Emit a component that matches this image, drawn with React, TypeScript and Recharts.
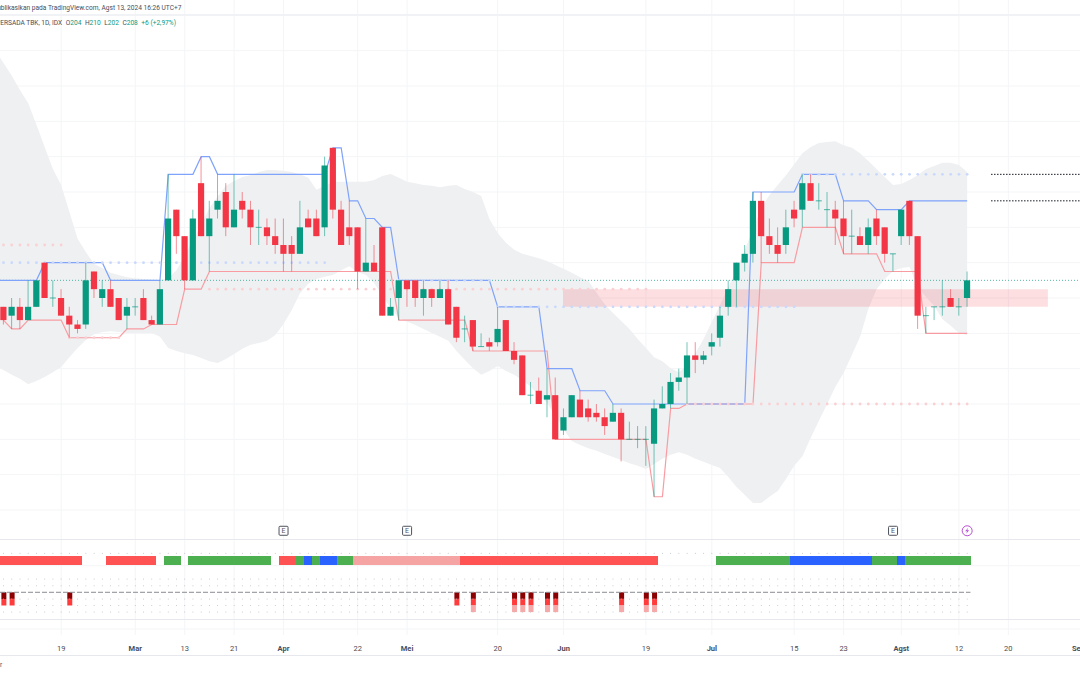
import React from "react";
import {
  Area,
  Bar,
  CartesianGrid,
  ComposedChart,
  Line,
  ReferenceArea,
  ReferenceDot,
  ReferenceLine,
  XAxis,
  YAxis,
} from "recharts";

const candleOpen = [202,200,202,199,202,212,204,204,200,198,198,210,204,206,204,200,202,204,199,198,208,224,218,208,230,218,224,228,220,226,224,220,220,218,216,216,214,222,222,220,238,224,220,220,210,212,220,200,204,208,208,204,206,204,206,202,197,199,193,194,194,199,192,191,182,183,181,182,174,177,181,179,178,177,176,178,172,172,172,171,179,180,185,186,191,190,193,195,202,208,212,214,226,218,216,216,224,224,230,226,224,224,222,218,218,216,222,220,214,218,226,218,200,202,202,204,202,204];
const candleHigh = [202,204,204,208,208,212,208,206,202,199,212,210,208,208,204,204,204,206,200,208,232,224,218,224,236,226,232,230,232,228,226,224,222,222,222,218,226,224,224,236,238,226,226,220,222,216,220,204,208,208,208,208,206,208,208,202,200,199,196,195,202,199,194,191,185,186,188,186,179,182,183,181,180,179,180,179,176,175,175,181,184,187,188,194,194,192,196,202,208,212,216,228,228,222,220,224,226,232,232,230,228,226,226,224,220,222,224,220,214,224,226,218,202,202,208,206,204,210];
const candleLow = [198,197,197,199,202,204,202,200,195,196,197,204,202,202,199,197,200,199,198,198,208,214,206,208,218,210,222,218,220,222,216,216,216,214,210,210,214,220,218,218,222,216,216,206,210,210,200,200,199,202,202,200,202,204,198,194,194,192,193,192,193,192,189,182,180,180,177,172,173,177,177,176,176,173,176,167,172,170,166,159,179,179,183,180,187,189,191,193,200,202,210,212,212,214,212,214,220,220,226,224,220,216,214,214,216,214,216,212,210,216,216,197,196,199,200,202,200,202];
const candleClose = [199,202,199,202,208,204,204,200,198,197,208,206,206,202,199,202,202,199,198,206,222,218,208,222,218,222,226,220,224,224,220,220,218,216,214,214,220,220,218,234,224,216,218,210,212,210,200,202,208,206,204,206,204,206,198,195,197,193,193,193,197,192,190,182,182,180,182,172,177,182,177,177,177,175,178,172,172,172,172,179,180,185,186,191,190,191,194,200,206,212,214,226,218,216,214,220,222,230,226,226,224,222,218,218,216,220,218,214,214,224,218,200,200,202,202,202,202,208];

const bandUpper = [257.2,254.3,251.1,248.1,243.2,238.2,233.2,229.6,223.5,217.4,214.4,211.7,210.8,209.7,209.2,208.7,208.5,208.3,208.2,208.1,208.5,210.3,213.5,217.1,220.5,224.4,226.9,229.4,230.5,231.4,231.8,232.5,233,233,232.8,232.5,232,231.2,228.5,229.4,230.3,230.3,230.3,230.3,230.3,230.7,231.6,232.1,231.2,230.3,230,229.6,229.4,229.1,229.4,229.6,228.7,228,227.1,221.9,218.7,216.5,214.9,214,213.5,213,212.4,211.5,210.6,209.7,208.7,207.9,205.2,202.6,200.6,198.8,197,194.7,192.7,190.6,189.7,188.1,187.2,188.8,191.5,194.7,198.6,202.4,206.5,210.3,214.9,219.6,224.4,227.3,229.6,231.8,234.3,236.8,238.2,239.1,239.3,239.5,238.6,238,236.8,235,233.2,231.4,229.6,229.8,230.7,231.8,233.2,233.9,234.6,234.6,234.1,232.5];
const bandLower = [187.7,186.6,185.7,184.5,185.2,186.1,187.2,188.4,190.6,192.7,194.5,195.8,196.3,196.5,196.3,196.1,196.1,196.1,196.1,195.2,192.7,192,191.5,191.1,190.4,189.7,189.3,190.2,191.3,192.5,193.4,193.8,194.3,195.6,198.1,201.3,205.1,207.2,208.3,208.8,209.2,210.3,211.2,209.9,209.2,207.4,204.5,201.7,199.5,198.6,197.9,197,196.1,195.2,194.3,192,190,188.1,186.6,187.5,188.6,187.5,186.6,185.4,183.9,182,180.2,177.3,174.3,171.6,170.7,170,169.4,168.7,168,167.3,166.6,166,165.3,166.4,167.6,168.5,169.1,168.5,167.6,166.9,166.2,165.5,163.5,161.2,159.4,157.6,157.6,159,160.3,163,166,168.2,172.3,176.2,180,183.9,187,191.1,195.2,201.5,206,208.3,210.1,210.8,211,206.5,204.2,202.2,199.2,197.7,196.1,195.6];

const channelUpper = [208,208,208,208,208,212,212,212,212,212,212,212,212,208,208,208,208,208,208,208,232,232,232,232,236,236,232,232,232,232,232,232,232,232,232,232,232,232,232,232,238,238,226,226,222,222,220,220,208,208,208,208,208,208,208,208,208,208,208,208,202,202,202,202,202,202,188,188,188,188,183,183,183,183,180,180,180,180,180,180,180,180,180,180,180,180,180,180,180,180,180,228,228,228,228,228,228,232,232,232,232,232,226,226,226,226,224,224,224,224,226,226,226,226,226,226,226,226];
const channelLower = [199,197,197,199,199,199,199,199,195,195,195,195,195,195,195,197,197,197,198,198,198,198,206,206,206,210,210,210,210,210,210,210,210,210,210,210,210,210,210,210,210,210,210,210,210,210,210,210,199,199,199,199,199,199,199,199,199,192,192,192,192,192,192,192,192,192,192,172,172,172,172,172,172,172,172,172,172,172,172,159,159,179,179,180,180,180,180,180,180,180,180,180,212,212,212,212,212,220,220,220,220,220,214,214,214,214,214,210,210,210,210,210,196,196,196,196,196,196];

// the session just off the left edge, only the band and upper channel show from it
const leadIn = { i: -1, band: [188.6, 260.2], upper: 208 };

// flat levels left behind by the channel, drawn as dots
const blueDotRuns = [
  { from: 0, to: 39, level: 212 },
  { from: 48, to: 59, level: 208 },
  { from: 60, to: 96, level: 202 },
  { from: 97, to: 117, level: 232 },
];
const redDotRuns = [
  { from: 0, to: 7, level: 216 },
  { from: 8, to: 14, level: 195 },
  { from: 25, to: 78, level: 206 },
  { from: 83, to: 117, level: 180 },
];

const priceGridLines = [152,156,160,164,168,172,176,180,184,188,192,196,200,204,208,212,216,220,224,228,232,236,240,244,248,252,256,260,264,268];
const timeTicks = [7,16,22,28,34,43,49,60,68,78,86,96,102,109,116,122,130.5];
const timeLabels = ["19","Mar","13","21","Apr","22","Mei","20","Jun","19","Jul","15","23","Agst","12","20","Sep"];
const monthLabels = ["Mar","Apr","Mei","Jun","Jul","Agst","Sep"];

const lastPrice = 208;
const zoneIdx = [67.93, 126.8];
const zonePrices = [206, 202];
const projectionStart = 119.9;
const projectionLevels = [232, 226];
const earningsIdx = [34, 49, 108];
const splitIdx = 117;
const eventPrice = 151.3;

// state strip: colour code and how many sessions it lasts, null is a gap
const stateRuns: [string | null, number][] = [
  ["r",10],[null,3],["r",6],[null,1],["g",2],[null,1],["g",10],[null,1],["r",2],["g",1],["b",1],["g",1],["b",2],["g",2],
  ["l",13],["r",24],[null,7],["g",9],["b",10],["g",3],["b",1],["g",8],
];
const stateColors: Record<string, string> = { r: "#ff5252", g: "#4caf50", b: "#2962ff", l: "#f5a3a3" };

const signalIdx = [0,1,8,55,57,62,63,64,66,67,75,78,79];
const signalTiers = [2,2,2,2,3,3,3,3,3,3,3,3,3];
const panelDotRows = [2,1,-1,-2,-3];

const candles = candleOpen.map((open, i) => ({
  i,
  open,
  high: candleHigh[i],
  low: candleLow[i],
  close: candleClose[i],
}));

const overlays = candleOpen.map((_, i) => {
  const blue = blueDotRuns.find((r) => i >= r.from && i <= r.to);
  const red = redDotRuns.find((r) => i >= r.from && i <= r.to);
  return {
    i,
    band: [bandLower[i], bandUpper[i]],
    upper: channelUpper[i],
    lower: channelLower[i],
    blueDot: blue ? blue.level : null,
    redDot: red ? red.level : null,
  };
});

const stateSeq = stateRuns.flatMap(([code, n]) => Array(n).fill(code) as (string | null)[]);
const stripData = stateSeq.map((code, i) => ({ i, code, range: code ? [4.18, 5.55] : null }));

const signalData = candleOpen.map((_, i) => {
  const at = signalIdx.indexOf(i);
  const tiers = at >= 0 ? signalTiers[at] : 0;
  return { i, t1: tiers >= 1 ? -1 : 0, t2: tiers >= 2 ? -1 : 0, t3: tiers >= 3 ? -1 : 0 };
});

const xDomain = [-0.425, 130.7];
const priceDomain = [149.21, 271.47];
const GRID = "#f4f5f7";
const UP = "#089981";
const DOWN = "#f23645";
const FONT = "Roboto, sans-serif";
const noMargin = { top: 0, right: 0, bottom: 0, left: 0 };
const layer = (top: number): React.CSSProperties => ({ position: "absolute", left: 0, top });

function Candle(props: any) {
  const { x, y, width, height, payload } = props;
  const top = Math.min(y, y + height);
  const perUnit = Math.abs(height) / (payload.high - payload.low);
  const bodyTop = top + (payload.high - Math.max(payload.open, payload.close)) * perUnit;
  const bodyH = Math.abs(payload.open - payload.close) * perUnit;
  const color = payload.close >= payload.open ? UP : DOWN;
  const mid = x + width / 2;
  return (
    <g>
      <line x1={mid} x2={mid} y1={top} y2={top + Math.abs(height)} stroke={color} strokeOpacity={0.55} strokeWidth={1} />
      {bodyH > 0 ? (
        <rect x={mid - 3.1} y={bodyTop} width={6.2} height={bodyH} fill={color} />
      ) : (
        <line x1={mid - 3} x2={mid + 3} y1={bodyTop} y2={bodyTop} stroke={color} strokeOpacity={0.7} strokeWidth={1} />
      )}
    </g>
  );
}

// blocks overlap a little so neighbours of one colour run together without seams
function StateBlock(props: any) {
  const { x, y, width, height, payload } = props;
  if (!payload.code) return null;
  return (
    <rect
      x={x + width / 2 - 4.4}
      y={Math.min(y, y + height)}
      width={8.8}
      height={Math.abs(height)}
      fill={stateColors[payload.code]}
      shapeRendering="crispEdges"
    />
  );
}

function EarningsBadge({ cx, cy }: any) {
  return (
    <g>
      <rect x={cx - 4.5} y={cy - 4.5} width={9} height={9} rx={1} fill="#fff" stroke="#50535e" strokeWidth={1} />
      <text x={cx} y={cy + 2.5} textAnchor="middle" fontSize={7} fontFamily={FONT} fill="#50535e">E</text>
    </g>
  );
}

function SplitBadge({ cx, cy }: any) {
  return (
    <g>
      <circle cx={cx} cy={cy} r={5} fill="#fff" stroke="#b84fd0" strokeWidth={1} />
      <path d={`M${cx + 1},${cy - 3} L${cx - 2},${cy + 0.5} L${cx},${cy + 0.5} L${cx - 1},${cy + 3} L${cx + 2},${cy - 0.5} L${cx},${cy - 0.5} Z`} fill="#b84fd0" />
    </g>
  );
}

function TimeTick({ x, y, payload }: any) {
  const label = timeLabels[timeTicks.indexOf(payload.value)];
  const bold = monthLabels.includes(label);
  return (
    <text x={x} y={y} textAnchor="middle" fontSize={7.5} fontFamily={FONT} fontWeight={bold ? 700 : 400} fill="#4a4d57">
      {label}
    </text>
  );
}

function Rule({ top, height = 1, color = "#e6e8ee" }: { top: number; height?: number; color?: string }) {
  return <div style={{ position: "absolute", left: 0, top, width: 1080, height, background: color }} />;
}

export default function App() {
  return (
    <div style={{ position: "fixed", left: 0, top: 0, width: 1080, height: 675, overflow: "hidden", background: "#fff", fontFamily: FONT }}>
      <div style={layer(0)}>
        <ComposedChart width={1080} height={540} data={[leadIn, ...overlays]} margin={noMargin}>
          <CartesianGrid stroke={GRID} horizontalValues={priceGridLines} verticalValues={timeTicks.slice(0, -1)} />
          <XAxis dataKey="i" type="number" domain={xDomain} allowDataOverflow hide />
          <YAxis type="number" domain={priceDomain} allowDataOverflow hide />
          <Area dataKey="band" stroke="none" fill="#eff0f2" fillOpacity={1} activeDot={false} isAnimationActive={false} />
          <ReferenceArea x1={zoneIdx[0]} x2={zoneIdx[1]} y1={zonePrices[0]} y2={zonePrices[1]} fill="#f23645" fillOpacity={0.16} stroke="none" />
          <ReferenceLine y={lastPrice} stroke={UP} strokeOpacity={0.7} strokeWidth={1} strokeDasharray="1 2" />
          {projectionLevels.map((level) => (
            <ReferenceLine
              key={level}
              segment={[{ x: projectionStart, y: level }, { x: xDomain[1], y: level }]}
              stroke="#131722"
              strokeWidth={1}
              strokeDasharray="1.5 1.5"
            />
          ))}
          <Line dataKey="blueDot" stroke="none" dot={{ r: 1.4, fill: "#c9d8fc", stroke: "none" }} activeDot={false} isAnimationActive={false} />
          <Line dataKey="redDot" stroke="none" dot={{ r: 1.4, fill: "#fad0d3", stroke: "none" }} activeDot={false} isAnimationActive={false} />
          <Line dataKey="lower" stroke="#f89ca2" strokeWidth={1.2} dot={false} activeDot={false} isAnimationActive={false} />
          <Line dataKey="upper" stroke="#7fa3fb" strokeWidth={1.2} dot={false} activeDot={false} isAnimationActive={false} />
          {earningsIdx.map((idx) => (
            <ReferenceDot key={idx} x={idx} y={eventPrice} shape={<EarningsBadge />} />
          ))}
          <ReferenceDot x={splitIdx} y={eventPrice} shape={<SplitBadge />} />
        </ComposedChart>
      </div>

      {/* candles sit in their own layer, they have to cover the channel lines and dots */}
      <div style={layer(0)}>
        <ComposedChart width={1080} height={540} data={candles} margin={noMargin}>
          <XAxis dataKey="i" type="number" domain={xDomain} allowDataOverflow hide />
          <YAxis type="number" domain={priceDomain} allowDataOverflow hide />
          <Bar dataKey={(d: any) => [d.low, d.high]} barSize={6} shape={<Candle />} isAnimationActive={false} />
        </ComposedChart>
      </div>

      <div style={layer(540)}>
        <ComposedChart width={1080} height={35} data={stripData} margin={noMargin}>
          <CartesianGrid stroke={GRID} horizontalValues={[4.03]} verticalValues={timeTicks.slice(0, -1)} />
          <XAxis dataKey="i" type="number" domain={xDomain} allowDataOverflow hide />
          <YAxis type="number" domain={[2.62, 7.92]} allowDataOverflow hide />
          <Line dataKey={() => 5.9} stroke="none" dot={{ r: 0.5, fill: "#bbbdc2", stroke: "none" }} activeDot={false} isAnimationActive={false} />
          <Bar dataKey="range" barSize={8} shape={<StateBlock />} isAnimationActive={false} />
        </ComposedChart>
      </div>

      <div style={layer(575)}>
        <ComposedChart width={1080} height={100} data={signalData} margin={noMargin}>
          <CartesianGrid stroke={GRID} horizontalValues={[-5.56]} verticalValues={timeTicks.slice(0, -1)} />
          <XAxis
            dataKey="i"
            type="number"
            domain={xDomain}
            allowDataOverflow
            ticks={timeTicks}
            interval={0}
            height={40}
            axisLine={false}
            tickLine={false}
            tick={<TimeTick />}
            tickMargin={10}
          />
          <YAxis type="number" domain={[-6.47, 2.62]} allowDataOverflow hide />
          {panelDotRows.map((row) => (
            <Line key={row} dataKey={() => row} stroke="none" dot={{ r: 0.5, fill: "#bbbdc2", stroke: "none" }} activeDot={false} isAnimationActive={false} />
          ))}
          <Bar dataKey="t1" stackId="sig" fill="#8b0000" barSize={5} isAnimationActive={false} />
          <Bar dataKey="t2" stackId="sig" fill="#ff3b3b" barSize={5} isAnimationActive={false} />
          <Bar dataKey="t3" stackId="sig" fill="#f7a8a8" barSize={5} isAnimationActive={false} />
          <ReferenceLine
            segment={[{ x: xDomain[0], y: 0 }, { x: 117.4, y: 0 }]}
            stroke="#8a8c92"
            strokeWidth={1}
            strokeDasharray="5 2"
          />
        </ComposedChart>
      </div>

      <Rule top={14} height={2} color="#f0f2f6" />
      <Rule top={539} />
      <Rule top={619} />
      <Rule top={655} />

      <div style={{ position: "absolute", left: -12.5, top: 3, fontSize: 6.6, lineHeight: "10px", color: "#4a4d57", whiteSpace: "nowrap" }}>
        Dipublikasikan pada TradingView.com, Agst 13, 2024 16:26 UTC+7
      </div>
      <div style={{ position: "absolute", left: -4, top: 18, fontSize: 6.6, lineHeight: "10px", color: "#4a4d57", whiteSpace: "nowrap" }}>
        PERSADA TBK, 1D, IDX
        <span style={{ marginLeft: 3.5 }}>O<span style={{ color: UP }}>204</span></span>
        <span style={{ marginLeft: 3.5 }}>H<span style={{ color: UP }}>210</span></span>
        <span style={{ marginLeft: 3.5 }}>L<span style={{ color: UP }}>202</span></span>
        <span style={{ marginLeft: 3.5 }}>C<span style={{ color: UP }}>208</span></span>
        <span style={{ marginLeft: 3.5, color: UP }}>+6 (+2,97%)</span>
      </div>
      <div style={{ position: "absolute", left: 0, top: 660, fontSize: 6.6, lineHeight: "10px", color: "#4a4d57" }}>r</div>
    </div>
  );
}
